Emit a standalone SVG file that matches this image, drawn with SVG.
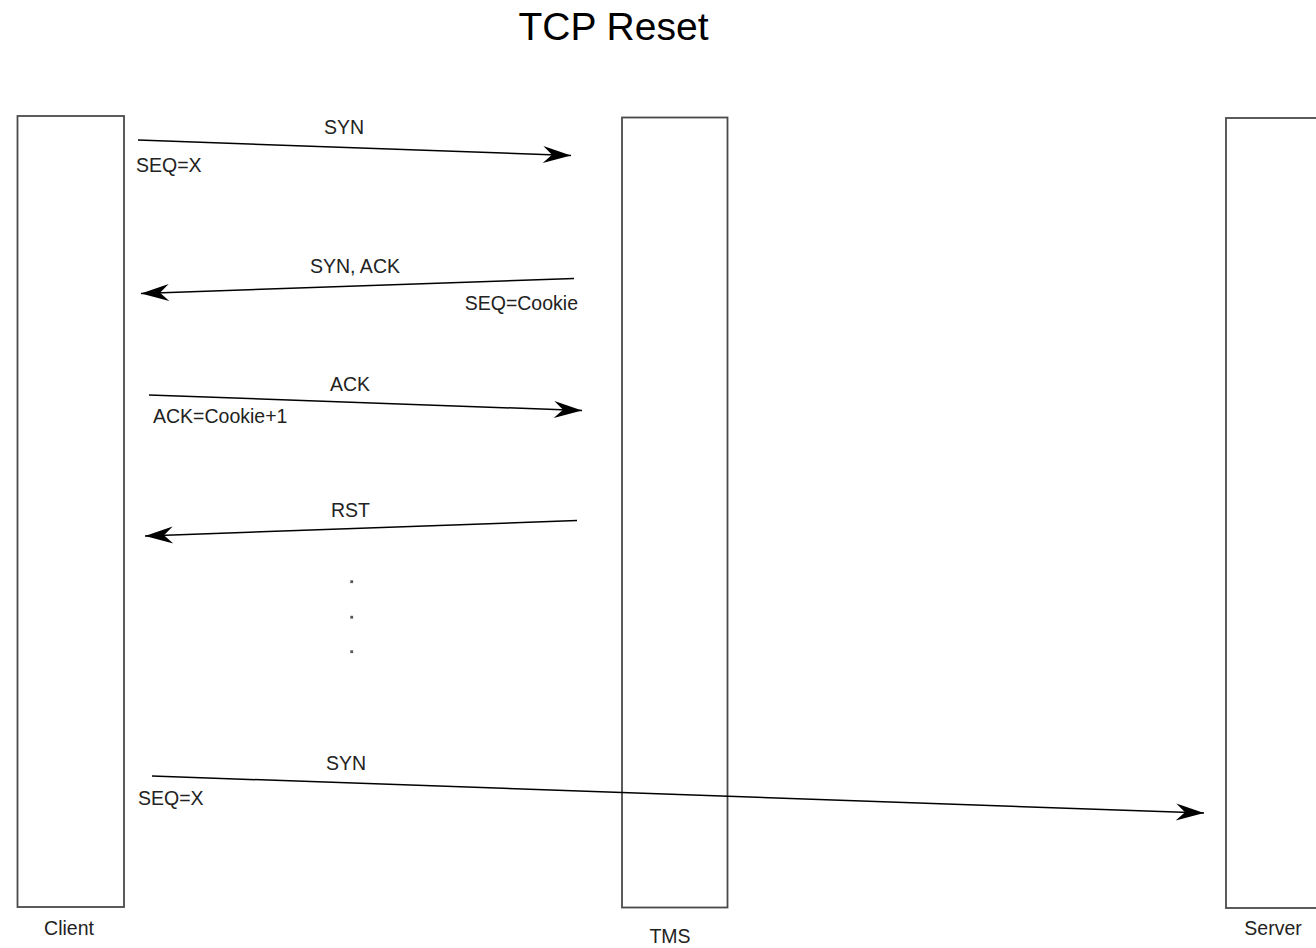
<svg xmlns="http://www.w3.org/2000/svg" width="1316" height="948" viewBox="0 0 1316 948">
<style>
.box{fill:#fff;stroke:#4a4a4a;stroke-width:1.8}
.lbl{font-family:"Liberation Sans",Arial,sans-serif;font-size:19.5px;fill:#222}
.ttl{font-family:"Liberation Sans",Arial,sans-serif;font-size:39px;fill:#000}
.msg{fill:none;stroke:#000;stroke-width:1.5;marker-end:url(#arr)}
.dot{fill:#555}
</style>
<defs>
<marker id="arr" markerUnits="userSpaceOnUse" markerWidth="40" markerHeight="30" viewBox="-30 -15 32 30" refX="0" refY="0" orient="auto" overflow="visible">
<path d="M0,0 L-28,-8.5 L-19,0 L-28,8.5 Z" fill="#000"/>
</marker>
</defs>
<rect width="1316" height="948" fill="#fff"/>
<text class="ttl" x="613.5" y="39.5" text-anchor="middle">TCP Reset</text>
<g id="client">
<rect class="box" x="17.5" y="116" width="106.5" height="791"/>
<text class="lbl" x="69" y="935" text-anchor="middle">Client</text>
</g>
<g id="tms">
<rect class="box" x="622" y="117.5" width="105.5" height="790"/>
<text class="lbl" x="670" y="943" text-anchor="middle">TMS</text>
</g>
<g id="server">
<rect class="box" x="1226" y="118" width="110" height="790"/>
<text class="lbl" x="1273" y="935" text-anchor="middle">Server</text>
</g>
<g id="connectors">
<path class="msg" d="M138,140 L571,155.5"/>
<text class="lbl" x="344" y="134" text-anchor="middle">SYN</text>
<text class="lbl" x="136" y="172">SEQ=X</text>
<path class="msg" d="M574,278.5 L141,293.5"/>
<text class="lbl" x="355" y="273" text-anchor="middle">SYN, ACK</text>
<text class="lbl" x="578" y="310" text-anchor="end">SEQ=Cookie</text>
<path class="msg" d="M149,395 L582,410.5"/>
<text class="lbl" x="350" y="390.5" text-anchor="middle">ACK</text>
<text class="lbl" x="153" y="423">ACK=Cookie+1</text>
<path class="msg" d="M577,520.5 L145,536"/>
<text class="lbl" x="350.5" y="516.5" text-anchor="middle">RST</text>
<path class="msg" d="M152,776 L1204,813"/>
<text class="lbl" x="346" y="770" text-anchor="middle">SYN</text>
<text class="lbl" x="138" y="805">SEQ=X</text>
</g>
<g id="ellipsis">
<rect class="dot" x="350.3" y="580.3" width="2.8" height="2.8"/>
<rect class="dot" x="350.3" y="615.8" width="2.8" height="2.8"/>
<rect class="dot" x="350.3" y="650.3" width="2.8" height="2.8"/>
</g>
</svg>
